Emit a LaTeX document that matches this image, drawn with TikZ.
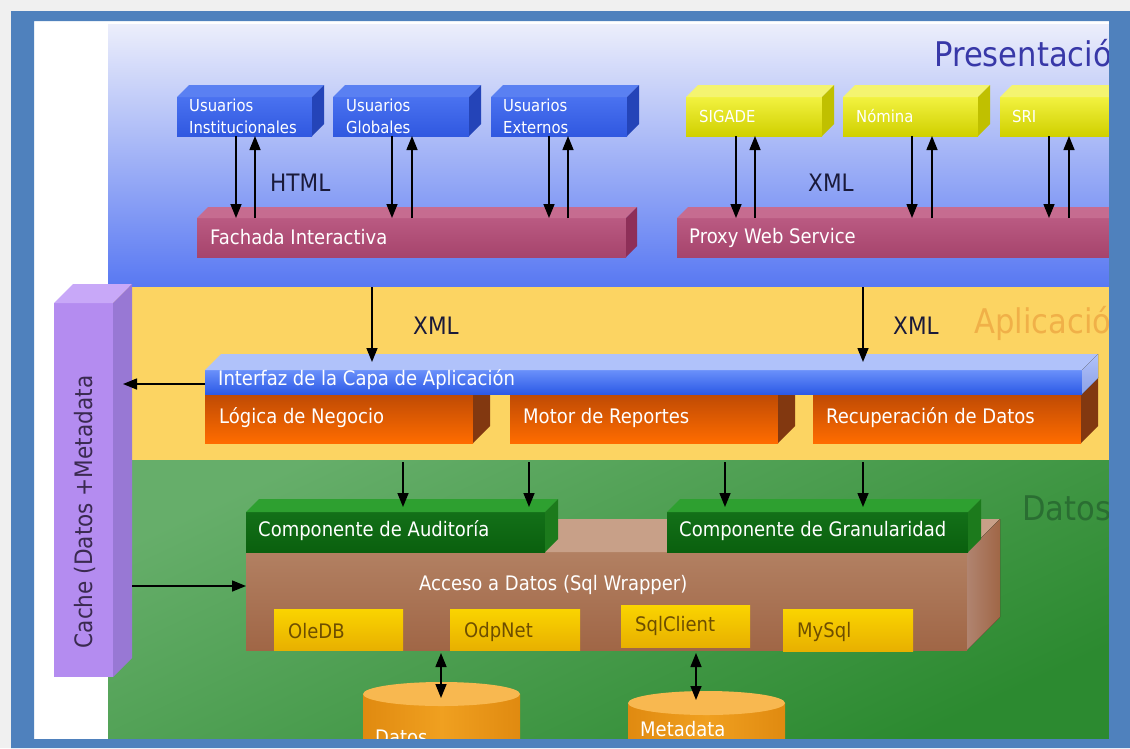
\documentclass[tikz,border=0pt]{standalone}
\usepackage{fontspec}
\setmainfont{DejaVu Sans}[FakeStretch=0.9]
\usetikzlibrary{arrows.meta,calc}

\definecolor{bgGray}{HTML}{F0F0F0}
\definecolor{frameBlue}{HTML}{4F81BD}
\definecolor{presTop}{HTML}{ECEEFB}
\definecolor{presBot}{HTML}{5878F2}
\definecolor{appYellow}{HTML}{FCD462}
\definecolor{datTop}{HTML}{66AE6A}
\definecolor{datBot}{HTML}{2C8A30}
\definecolor{presTitle}{HTML}{3838A8}
\definecolor{appTitle}{HTML}{F0B048}
\definecolor{datTitle}{HTML}{2A6E32}
\definecolor{fmtText}{HTML}{1A1A3A}
\definecolor{drvText}{HTML}{6E4E00}
\definecolor{cacheText}{HTML}{3A2A50}

% faces of the solid blocks
\definecolor{usrFrontT}{HTML}{4A72F0}
\definecolor{usrFrontB}{HTML}{3058E0}
\definecolor{usrTop}{HTML}{5A80F2}
\definecolor{usrSide}{HTML}{2444B8}
\definecolor{extFrontT}{HTML}{F2F240}
\definecolor{extFrontB}{HTML}{D0D000}
\definecolor{extTop}{HTML}{F4F470}
\definecolor{extSide}{HTML}{C0C000}
\definecolor{barFrontT}{HTML}{BA5A82}
\definecolor{barFrontB}{HTML}{A6446C}
\definecolor{barTop}{HTML}{C66C90}
\definecolor{barSide}{HTML}{8E2F58}
\definecolor{ifzFrontT}{HTML}{6A90FA}
\definecolor{ifzFrontB}{HTML}{2C5AE6}
\definecolor{ifzTop}{HTML}{B0C2FA}
\definecolor{ifzSide}{HTML}{8CA0E6}
\definecolor{orgFrontT}{HTML}{BE4A04}
\definecolor{orgFrontB}{HTML}{FF6C00}
\definecolor{orgSide}{HTML}{823810}
\definecolor{cacheFront}{HTML}{B48CF0}
\definecolor{cacheTop}{HTML}{C8A8F8}
\definecolor{cacheSide}{HTML}{9878D4}
\definecolor{brnFrontT}{HTML}{B28062}
\definecolor{brnFrontB}{HTML}{A06646}
\definecolor{brnTop}{HTML}{C8A088}
\definecolor{brnSide}{HTML}{B08470}
\definecolor{grnFrontT}{HTML}{137018}
\definecolor{grnFrontB}{HTML}{0A600E}
\definecolor{grnTop}{HTML}{2EA030}
\definecolor{grnSide}{HTML}{1C7A1C}
\definecolor{drvT}{HTML}{FAD400}
\definecolor{drvB}{HTML}{E8B000}
\definecolor{drumBody}{HTML}{F0A020}
\definecolor{drumEdge}{HTML}{E08A10}
\definecolor{drumTop}{HTML}{F8B850}

% a block seen from the front, with its top and right faces
% #1 name, #2 x, #3 y, #4 width, #5 height, #6 depth, #7 front style, #8 top fill, #9 side fill
\newcommand\solidblock[9]{%
  \node[face,#7,minimum width=#4pt,minimum height=#5pt] (#1) at (#2,#3) {};
  \fill[#8] (#1.north west) -- ++(#6,-#6) -- ($(#1.north east)+(#6,-#6)$) -- (#1.north east) -- cycle;
  \fill[#9] (#1.north east) -- ++(#6,-#6) -- ($(#1.south east)+(#6,-#6)$) -- (#1.south east) -- cycle;
}

% a storage drum: #1 name of top centre, #2 left x, #3 top y, #4 width
\newcommand\drum[4]{%
  \fill[left color=drumEdge,right color=drumEdge,middle color=drumBody]
    (#2,#3+12) -- (#2,748) -- (#2+#4,748) -- (#2+#4,#3+12) -- cycle;
  \coordinate (#1) at (#2+#4/2,#3+12);
  \fill[drumTop] (#1) ellipse [x radius=#4/2, y radius=12];
}

\tikzset{
  face/.style={anchor=north west, inner sep=0pt, outer sep=0pt},
  layer/.style={anchor=north west, inner sep=0pt, outer sep=0pt, minimum width=1001pt},
  wtxt/.style={text=white, inner sep=0pt, anchor=west, font=\fontsize{20}{24}\selectfont},
  utxt/.style={text=white, inner sep=0pt, anchor=west, align=left, font=\fontsize{16.5}{22}\selectfont},
  ytxt/.style={text=white, inner sep=0pt, anchor=west, font=\fontsize{16.5}{20}\selectfont},
  dtxt/.style={text=drvText, inner sep=0pt, anchor=west, font=\fontsize{20}{24}\selectfont},
  fmt/.style={text=fmtText, inner sep=0pt, anchor=west, font=\fontsize{24}{28}\selectfont},
  ttl/.style={inner sep=0pt, anchor=west, font=\fontsize{34}{40}\selectfont},
  arr/.style={-{Triangle[length=14pt,width=11pt]}, line width=1.5pt},
  darr/.style={{Triangle[length=14pt,width=11pt]}-{Triangle[length=14pt,width=11pt]}, line width=1.5pt},
  usrfront/.style={top color=usrFrontT, bottom color=usrFrontB},
  extfront/.style={top color=extFrontT, bottom color=extFrontB},
  barfront/.style={top color=barFrontT, bottom color=barFrontB},
  ifzfront/.style={top color=ifzFrontT, bottom color=ifzFrontB},
  orgfront/.style={top color=orgFrontT, bottom color=orgFrontB},
  brnfront/.style={top color=brnFrontT, bottom color=brnFrontB},
  grnfront/.style={top color=grnFrontT, bottom color=grnFrontB},
  drvfront/.style={top color=drvT, bottom color=drvB},
}

\begin{document}
\begin{tikzpicture}[x=1pt,y=-1pt]
\useasboundingbox (0,0) rectangle (1130,748);
\fill[bgGray] (0,0) rectangle (1130,748);
\fill[white] (34,21) rectangle (1109,739);

\begin{scope}
\clip (34,21) rectangle (1109,739);

% ---------- the three layers ----------
\node[layer, top color=presTop, bottom color=presBot, minimum height=263pt] (pres) at (108,24) {};
\node[layer, fill=appYellow, minimum height=173pt] (app) at (108,287) {};
\node[layer, top color=datTop, bottom color=datBot, shading angle=25, minimum height=279pt] (dat) at (108,460) {};

\node[ttl, text=presTitle] (tpres) at (934,53) {Presentació};
\node[ttl, text=appTitle] (tapp) at (974,323) {Aplicació};
\node[ttl, text=datTitle] (tdat) at (1022,508) {Datos};

% ---------- presentation ----------
\solidblock{fach}{197}{218}{429}{39}{11}{barfront}{barTop}{barSide}
\node[wtxt] (fach-t) at ($(fach.west)+(13,0)$) {Fachada Interactiva};
\solidblock{proxy}{677}{218}{450}{39}{11}{barfront}{barTop}{barSide}
\node[wtxt] (proxy-t) at ($(proxy.west)+(12,0)$) {Proxy Web Service};

\solidblock{inst}{177}{97}{135}{39}{12}{usrfront}{usrTop}{usrSide}
\node[utxt] (inst-t) at ($(inst.west)+(12,0)$) {Usuarios\\Institucionales};
\solidblock{glob}{333}{97}{136}{39}{12}{usrfront}{usrTop}{usrSide}
\node[utxt] (glob-t) at ($(glob.west)+(13,0)$) {Usuarios\\Globales};
\solidblock{ext}{491}{97}{136}{39}{12}{usrfront}{usrTop}{usrSide}
\node[utxt] (ext-t) at ($(ext.west)+(12,0)$) {Usuarios\\Externos};

\solidblock{sig}{686}{97}{136}{39}{12}{extfront}{extTop}{extSide}
\node[ytxt] (sig-t) at ($(sig.west)+(13,0)$) {SIGADE};
\solidblock{nom}{843}{97}{135}{39}{12}{extfront}{extTop}{extSide}
\node[ytxt] (nom-t) at ($(nom.west)+(13,0)$) {Nómina};
\solidblock{sri}{1000}{97}{140}{39}{12}{extfront}{extTop}{extSide}
\node[ytxt] (sri-t) at ($(sri.west)+(12,0)$) {SRI};

% request / response pairs
\draw[arr] ($(inst.south west)+(59,0)$) -- ($(inst.south west |- fach.north)+(59,0)$);
\draw[arr] ($(inst.south west |- fach.north)+(78,0)$) -- ($(inst.south west)+(78,0)$);
\draw[arr] ($(glob.south west)+(59,0)$) -- ($(glob.south west |- fach.north)+(59,0)$);
\draw[arr] ($(glob.south west |- fach.north)+(79,0)$) -- ($(glob.south west)+(79,0)$);
\draw[arr] ($(ext.south west)+(58,0)$) -- ($(ext.south west |- fach.north)+(58,0)$);
\draw[arr] ($(ext.south west |- fach.north)+(77,0)$) -- ($(ext.south west)+(77,0)$);
\draw[arr] ($(sig.south west)+(50,0)$) -- ($(sig.south west |- proxy.north)+(50,0)$);
\draw[arr] ($(sig.south west |- proxy.north)+(69,0)$) -- ($(sig.south west)+(69,0)$);
\draw[arr] ($(nom.south west)+(69,0)$) -- ($(nom.south west |- proxy.north)+(69,0)$);
\draw[arr] ($(nom.south west |- proxy.north)+(89,0)$) -- ($(nom.south west)+(89,0)$);
\draw[arr] ($(sri.south west)+(49,0)$) -- ($(sri.south west |- proxy.north)+(49,0)$);
\draw[arr] ($(sri.south west |- proxy.north)+(69,0)$) -- ($(sri.south west)+(69,0)$);

\node[fmt] (html) at (270,183) {HTML};
\node[fmt] (xml1) at (808,183) {XML};

% ---------- application ----------
\solidblock{log}{205}{394}{268}{49}{17}{orgfront}{orgSide}{orgSide}
\node[wtxt] (log-t) at ($(log.west)+(14,-1)$) {Lógica de Negocio};
\solidblock{mot}{510}{394}{268}{49}{17}{orgfront}{orgSide}{orgSide}
\node[wtxt] (mot-t) at ($(mot.west)+(13,-1)$) {Motor de Reportes};
\solidblock{rec}{813}{394}{268}{49}{17}{orgfront}{orgSide}{orgSide}
\node[wtxt] (rec-t) at ($(rec.west)+(13,-1)$) {Recuperación de Datos};

\solidblock{ifz}{205}{370}{877}{24}{16}{ifzfront}{ifzTop}{top color=ifzTop,bottom color=ifzSide}
\node[wtxt] (ifz-t) at ($(ifz.west)+(13,-2)$) {Interfaz de la Capa de Aplicación};

\draw[arr] ($(app.north west)+(264,0)$) -- ($(app.north west |- ifz.north)+(264,-8)$);
\draw[arr] ($(app.north west)+(755,0)$) -- ($(app.north west |- ifz.north)+(755,-8)$);
\node[fmt] (xml2) at (413,326) {XML};
\node[fmt] (xml3) at (893,326) {XML};

% ---------- cache column ----------
\solidblock{cache}{54}{303}{59}{374}{19}{fill=cacheFront}{cacheTop}{cacheSide}
\node[fmt, text=cacheText, rotate=90, anchor=center] (cache-t) at (85,512) {Cache (Datos +Metadata};

\draw[arr] ($(ifz.west)+(0,2)$) -- ($(cache.east |- ifz.west)+(10,2)$);

% ---------- data ----------
\solidblock{acc}{246}{552}{721}{98}{33}{brnfront}{brnTop}{left color=brnSide,right color=brnFrontB}
\node[wtxt] (acc-t) at ($(acc.north west)+(173,33)$) {Acceso a Datos (Sql Wrapper)};

\solidblock{aud}{246}{512}{299}{40}{13}{grnfront}{grnTop}{grnSide}
\node[wtxt] (aud-t) at ($(aud.west)+(12,-1)$) {Componente de Auditoría};
\solidblock{gra}{667}{512}{301}{40}{13}{grnfront}{grnTop}{grnSide}
\node[wtxt] (gra-t) at ($(gra.west)+(12,-1)$) {Componente de Granularidad};

\node[face, drvfront, minimum width=129pt, minimum height=41pt] (ole) at (274,609) {};
\node[dtxt] (ole-t) at ($(ole.west)+(14,2)$) {OleDB};
\node[face, drvfront, minimum width=130pt, minimum height=41pt] (odp) at (450,609) {};
\node[dtxt] (odp-t) at ($(odp.west)+(14,2)$) {OdpNet};
\node[face, drvfront, minimum width=129pt, minimum height=42pt] (sqlc) at (621,605) {};
\node[dtxt] (sqlc-t) at ($(sqlc.west)+(14,0)$) {SqlClient};
\node[face, drvfront, minimum width=130pt, minimum height=42pt] (mys) at (783,609) {};
\node[dtxt] (mys-t) at ($(mys.west)+(14,2)$) {MySql};

\draw[arr] ($(dat.north west)+(295,2)$) -- ($(dat.north west |- aud.north)+(295,-5)$);
\draw[arr] ($(dat.north west)+(421,2)$) -- ($(dat.north west |- aud.north)+(421,-5)$);
\draw[arr] ($(dat.north west)+(617,2)$) -- ($(dat.north west |- gra.north)+(617,-5)$);
\draw[arr] ($(dat.north west)+(755,2)$) -- ($(dat.north west |- gra.north)+(755,-5)$);

\draw[arr] ($(cache.east |- acc.west)+(19,-15)$) -- ($(acc.west)+(0,-15)$);

\drum{db}{363}{682}{157}
\node[wtxt] (db-t) at (375,737) {Datos};
\drum{meta}{628}{691}{157}
\node[wtxt] (meta-t) at (640,729) {Metadata};

\draw[darr] ($(acc.south west)+(195,3)$) -- ($(acc.south west |- db)+(195,4)$);
\draw[darr] ($(acc.south west)+(450,3)$) -- ($(acc.south west |- meta)+(450,-3)$);
\end{scope}

% ---------- frame ----------
\fill[frameBlue, even odd rule] (11,11) rectangle (1130,748) (34,21) rectangle (1109,739);
\end{tikzpicture}
\end{document}
